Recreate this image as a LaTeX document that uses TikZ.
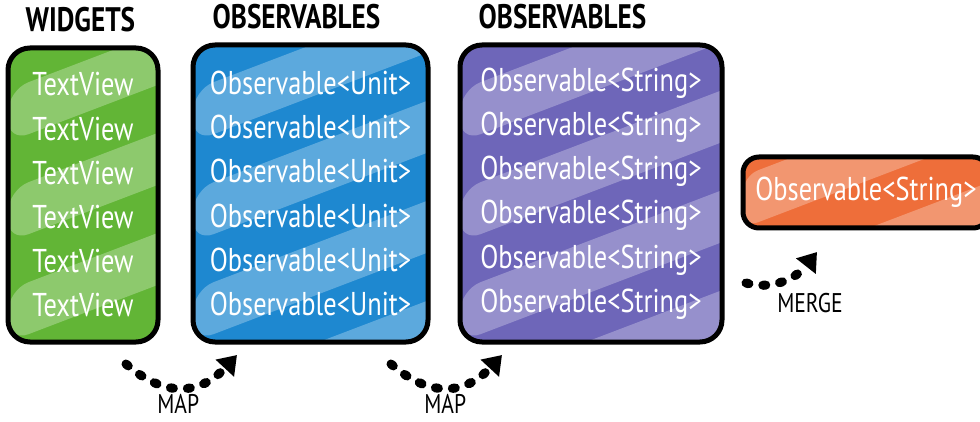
\documentclass[tikz,border=0pt]{standalone}
\usepackage{fontspec}
\setmainfont{PT Sans}
\newfontfamily\handfont[FakeStretch=0.8]{PT Sans}
\usetikzlibrary{arrows.meta,positioning}

\definecolor{wgreen}{HTML}{62B536}
\definecolor{ublue}{HTML}{1E88D0}
\definecolor{spurple}{HTML}{6E66B9}
\definecolor{morange}{HTML}{EE6E3A}

% light diagonal bands inside a box
\newcommand\stripes{%
  \foreach \k in {-6,...,4}
    \fill[white, opacity=0.28] ([yshift=\k*100pt]path picture bounding box.south west)
      -- ++(420pt,160pt) -- ++(0pt,52pt) -- ++(-420pt,-160pt) -- cycle;}

\begin{document}
\begin{tikzpicture}[
  x=1pt, y=-1pt,
  box/.style={draw=black, line width=5pt, rounded corners=22pt, fill=#1,
    text=white, align=center, inner sep=0pt, path picture={\stripes},
    font=\handfont\fontsize{33}{44.2}\selectfont},
  title/.style={font=\handfont\bfseries\fontsize{34}{36}\selectfont, inner sep=0pt},
  lbl/.style={font=\handfont\fontsize{27}{29}\selectfont, inner sep=0pt, solid},
  dotarr/.style={line width=9pt, line cap=round, dash pattern=on 3pt off 14pt,
    -{Triangle[length=18pt, width=24pt]}}
]
  \useasboundingbox (0,0) rectangle (980,422);

  \node[box=wgreen, minimum width=150pt, minimum height=294pt] (widgets) at (83,195)
    {TextView\\TextView\\TextView\\TextView\\TextView\\TextView};
  \node[box=ublue, minimum width=235pt, minimum height=297pt] (units) at (310.5,193.5)
    {Observable<Unit>\\Observable<Unit>\\Observable<Unit>\\Observable<Unit>\\Observable<Unit>\\Observable<Unit>};
  \node[box=spurple, minimum width=262pt, minimum height=297pt] (strings) at (591,193.5)
    {Observable<String>\\Observable<String>\\Observable<String>\\Observable<String>\\Observable<String>\\Observable<String>};
  \node[box=morange, rounded corners=16pt, minimum width=246pt, minimum height=71pt] (merged) at (866,192.5)
    {Observable<String>};

  \node[title, above right=13pt and 20pt of widgets.north west] (t1) {WIDGETS};
  \node[title, above right=13pt and 22pt of units.north west] (t2) {OBSERVABLES};
  \node[title, above right=13pt and 21pt of strings.north west] (t3) {OBSERVABLES};

  \coordinate (m1a) at (126,364);
  \coordinate (m1b) at (237,355);
  \coordinate (m2a) at (391,364);
  \coordinate (m2b) at (502,355);
  \coordinate (mga) at (746,283);
  \coordinate (mgb) at (817,252);

  \draw[dotarr] (m1a) .. controls (165,398) and (200,395) .. node[lbl, below=3pt, xshift=-4pt] (map1) {MAP} (m1b);
  \draw[dotarr] (m2a) .. controls (430,398) and (465,395) .. node[lbl, below=3pt, xshift=-2pt] (map2) {MAP} (m2b);
  \draw[dotarr] (mga) .. controls (770,290) and (795,280) .. (mgb);
  \node[lbl] (merge) at (810,303) {MERGE};
\end{tikzpicture}
\end{document}
